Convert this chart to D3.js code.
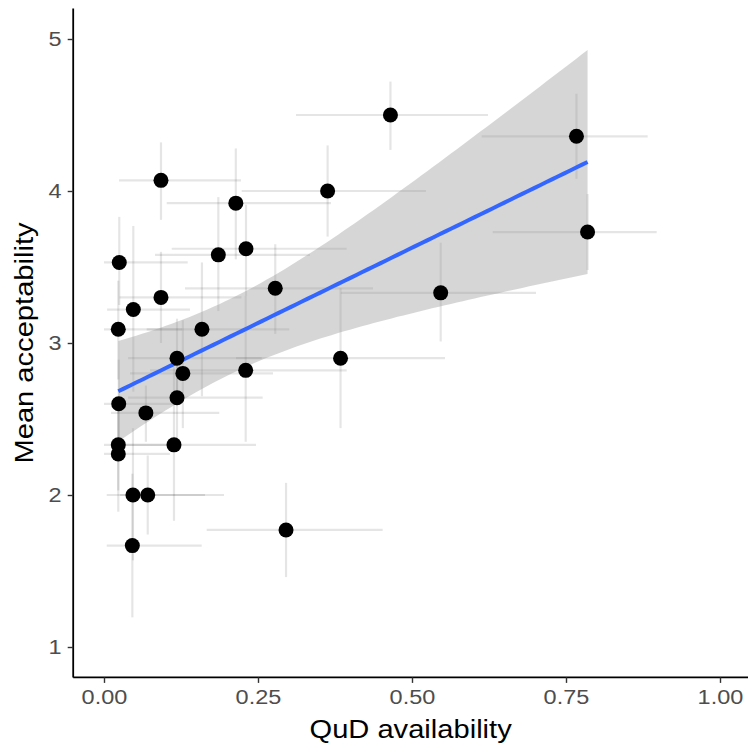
<!DOCTYPE html>
<html>
<head>
<meta charset="utf-8">
<script src="https://d3js.org/d3.v7.min.js"></script>
<style>
  html, body { margin: 0; padding: 0; background: #ffffff; }
  svg { display: block; }
  text { font-family: "Liberation Sans", Arial, sans-serif; }
</style>
</head>
<body>
<div id="chart"></div>
<script>
// ---- data ----
const qud      = [0.0925,0.214,0.363,0.465,0.767,0.785,0.1856,0.2305,0.0248,0.278,0.5466,0.0925,0.0476,0.0232,0.159,0.1185,0.384,0.128,0.23,0.0239,0.1185,0.068,0.0232,0.1136,0.0232,0.047,0.071,0.2955,0.046];
const qudLow   = [0.0244,0.1018,0.2235,0.3117,0.6131,0.631,0.0828,0.1099,0.0,0.1315,0.3843,0.0252,0.005,0.0,0.0693,0.039,0.2143,0.0422,0.0747,0.0,0.039,0.0114,0.0,0.034,0.0,0.0044,0.026,0.1667,0.0044];
const qudHigh  = [0.2224,0.3685,0.5227,0.6234,0.8826,0.8972,0.3344,0.394,0.1359,0.4367,0.7013,0.2232,0.1396,0.1266,0.3008,0.256,0.5536,0.2744,0.394,0.118,0.2576,0.1872,0.107,0.2468,0.107,0.164,0.1948,0.4524,0.1586];
const accept   = [4.07,3.92,4.0,4.5,4.36,3.73,3.58,3.62,3.53,3.36,3.33,3.30,3.22,3.09,3.09,2.90,2.90,2.80,2.82,2.60,2.64,2.54,2.33,2.33,2.27,2.0,2.0,1.77,1.667];
const acceptLow  = [3.81,3.55,3.70,4.27,4.08,3.48,3.21,3.31,3.25,3.06,3.01,3.00,2.68,2.76,2.65,2.63,2.44,2.44,2.35,2.33,2.36,2.35,2.03,1.83,1.89,1.57,1.74,1.46,1.195];
const acceptHigh = [4.32,4.28,4.30,4.72,4.64,3.98,3.96,3.91,3.83,3.65,3.66,3.60,3.77,3.41,3.53,3.16,3.36,3.15,3.31,2.89,2.92,2.72,2.63,2.84,2.56,2.44,2.26,2.08,2.14];
const xTicks = [0, 0.25, 0.5, 0.75, 1];
const xTickLabels = ["0.00", "0.25", "0.50", "0.75", "1.00"];
const yTicks = [1, 2, 3, 4, 5];
const xTitle = "QuD availability";
const yTitle = "Mean acceptability";

// ---- layout ----
const W = 748, H = 748;
const STRETCH = 1.12; // reference glyphs are slightly wider than Liberation Sans
const svg = d3.select("#chart").append("svg").attr("width", W).attr("height", H);

const x = d3.scaleLinear().domain([-0.05, 1.05]).range([73.2, 750.8]);
const y = d3.scaleLinear().domain([0.8, 5.2]).range([677.4, 8.6]);

const rows = qud.map((d, i) => ({
  x: d, xl: qudLow[i], xh: qudHigh[i],
  y: accept[i], yl: acceptLow[i], yh: acceptHigh[i]
}));

const panel = svg.append("g");

// error bars
const eb = panel.append("g");
eb.selectAll("line.v").data(rows).join("line")
  .attr("class", "v")
  .attr("x1", d => x(d.x)).attr("x2", d => x(d.x))
  .attr("y1", d => y(d.yl)).attr("y2", d => y(d.yh))
  .attr("stroke", "#000").attr("stroke-opacity", 0.1).attr("stroke-width", 2.2);
eb.selectAll("line.h").data(rows).join("line")
  .attr("class", "h")
  .attr("x1", d => x(d.xl)).attr("x2", d => x(d.xh))
  .attr("y1", d => y(d.y)).attr("y2", d => y(d.y))
  .attr("stroke", "#000").attr("stroke-opacity", 0.1).attr("stroke-width", 2.2);

// linear fit with 95% CI (like geom_smooth(method = "lm"))
const n = qud.length;
const mx = d3.mean(qud), my = d3.mean(accept);
let sxx = 0, sxy = 0;
for (let i = 0; i < n; i++) { sxx += (qud[i]-mx)**2; sxy += (qud[i]-mx)*(accept[i]-my); }
const b1 = sxy / sxx, b0 = my - b1 * mx;
let sse = 0;
for (let i = 0; i < n; i++) { sse += (accept[i] - (b0 + b1*qud[i]))**2; }
const s = Math.sqrt(sse / (n - 2));
const tcrit = 2.052; // t(0.975, df = 27)
const [xmin, xmax] = d3.extent(qud);
const grid = d3.range(80).map(k => xmin + (xmax - xmin) * k / 79);
const fit = grid.map(g => {
  const yh = b0 + b1 * g;
  const se = s * Math.sqrt(1/n + (g-mx)**2 / sxx);
  return { x: g, y: yh, lo: yh - tcrit*se, hi: yh + tcrit*se };
});

panel.append("path").datum(fit)
  .attr("d", d3.area().x(d => x(d.x)).y0(d => y(d.lo)).y1(d => y(d.hi)))
  .attr("fill", "#999999").attr("fill-opacity", 0.4);
panel.append("path").datum(fit)
  .attr("d", d3.line().x(d => x(d.x)).y(d => y(d.y)))
  .attr("fill", "none").attr("stroke", "#3366FF").attr("stroke-width", 4);

// points
panel.selectAll("circle").data(rows).join("circle")
  .attr("cx", d => x(d.x)).attr("cy", d => y(d.y)).attr("r", 7.5)
  .attr("fill", "#000");

// axes
const xAxis = svg.append("g").attr("transform", `translate(0,${y.range()[0]})`)
  .call(d3.axisBottom(x).tickValues(xTicks).tickFormat((d, i) => xTickLabels[i]).tickSize(5.5).tickPadding(6));
const yAxis = svg.append("g").attr("transform", `translate(${x.range()[0]},0)`)
  .call(d3.axisLeft(y).tickValues(yTicks).tickFormat(d3.format("d")).tickSize(5.5).tickPadding(6));

[xAxis, yAxis].forEach(a => {
  a.select(".domain").attr("stroke", "#000").attr("stroke-width", 1.8);
  a.selectAll(".tick line").attr("stroke", "#333333").attr("stroke-width", 1.4);
  a.selectAll(".tick text").attr("fill", "#4D4D4D").attr("font-size", 21)
    .attr("font-family", "Liberation Sans, Arial, sans-serif");
});
xAxis.selectAll(".tick text").attr("transform", `scale(${STRETCH},1)`);
yAxis.selectAll(".tick text")
  .attr("x", -11.5 / STRETCH)
  .attr("transform", `scale(${STRETCH},1)`);

// make domain lines span the full panel like ggplot
xAxis.select(".domain").attr("d", `M${x.range()[0]},0H${W}`);
yAxis.select(".domain").attr("d", `M0,${y.range()[0]}V${y.range()[1]}`);

svg.append("text")
  .attr("transform", `translate(${(x.range()[0] + W) / 2},738) scale(${STRETCH},1)`)
  .attr("text-anchor", "middle").attr("font-size", 26).attr("fill", "#000")
  .text(xTitle);
svg.append("text")
  .attr("transform", `translate(33,${(y.range()[0] + y.range()[1]) / 2}) rotate(-90) scale(${STRETCH},1)`)
  .attr("text-anchor", "middle").attr("font-size", 26).attr("fill", "#000")
  .text(yTitle);
</script>
</body>
</html>
